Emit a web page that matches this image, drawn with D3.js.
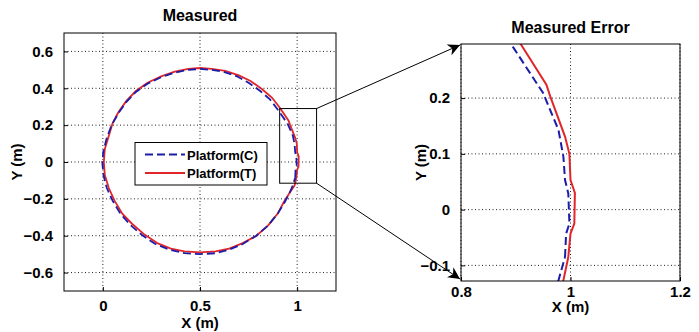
<!DOCTYPE html>
<html>
<head>
<meta charset="utf-8">
<script src="https://d3js.org/d3.v7.min.js"></script>
<style>
    body { margin: 0; background: #fff; }
    text { font-family: "Liberation Sans", Arial, sans-serif; font-weight: bold; fill: #000; }
</style>
</head>
<body>
<svg id="chart" width="699" height="332"></svg>
<script>
// measured trajectories, [x, y] in metres
let platformC = [
    [0.990, -0.085], [0.992, -0.043], [0.998, -0.025], [0.996, 0.029], [0.990, 0.053],
    [0.987, 0.095], [0.978, 0.143], [0.950, 0.209], [0.896, 0.290], [0.860, 0.340],
    [0.810, 0.385], [0.750, 0.430], [0.690, 0.465], [0.620, 0.490], [0.560, 0.500],
    [0.500, 0.505], [0.440, 0.500], [0.370, 0.485], [0.300, 0.460], [0.230, 0.425],
    [0.170, 0.380], [0.120, 0.325], [0.080, 0.265], [0.045, 0.200], [0.020, 0.130],
    [0.003, 0.060], [-0.003, 0.000], [0.003, -0.070], [0.020, -0.140], [0.050, -0.210],
    [0.090, -0.280], [0.140, -0.340], [0.200, -0.395], [0.270, -0.445], [0.340, -0.475],
    [0.420, -0.495], [0.500, -0.500], [0.580, -0.495], [0.650, -0.475], [0.720, -0.445],
    [0.790, -0.400], [0.850, -0.345], [0.900, -0.280], [0.935, -0.220], [0.960, -0.170],
    [0.978, -0.127], [0.990, -0.085]
];
let platformT = [
    [0.996, -0.085], [1.000, -0.043], [1.007, -0.025], [1.008, 0.030], [1.000, 0.053],
    [0.998, 0.100], [0.990, 0.131], [0.963, 0.203], [0.956, 0.224], [0.909, 0.297],
    [0.870, 0.350], [0.820, 0.395], [0.760, 0.440], [0.700, 0.470], [0.630, 0.495],
    [0.560, 0.505], [0.500, 0.510], [0.440, 0.505], [0.370, 0.490], [0.300, 0.465],
    [0.230, 0.430], [0.170, 0.385], [0.120, 0.330], [0.080, 0.270], [0.050, 0.210],
    [0.030, 0.140], [0.010, 0.070], [0.005, 0.000], [0.010, -0.070], [0.030, -0.140],
    [0.060, -0.210], [0.100, -0.280], [0.150, -0.335], [0.210, -0.390], [0.280, -0.440],
    [0.350, -0.470], [0.420, -0.485], [0.500, -0.490], [0.580, -0.485], [0.650, -0.470],
    [0.720, -0.440], [0.790, -0.400], [0.850, -0.345], [0.900, -0.280], [0.930, -0.220],
    [0.960, -0.170], [0.987, -0.127], [0.996, -0.085]
];
let seriesNames = ['Platform(C)', 'Platform(T)'];

let mainXTicks = [0, 0.5, 1];
let mainYTicks = [-0.6, -0.4, -0.2, 0, 0.2, 0.4, 0.6];
let zoomXTicks = [0.8, 1, 1.2];
let zoomYTicks = [-0.1, 0, 0.1, 0.2];
let zoomBox = {x0: 0.91, x1: 1.1, y0: -0.115, y1: 0.29};

let svg = d3.select('#chart');

function drawPanel(opts) {
    let x = d3.scaleLinear().domain(opts.xDomain).range([opts.left, opts.right]);
    let y = d3.scaleLinear().domain(opts.yDomain).range([opts.bottom, opts.top]);
    let g = svg.append('g');

    // dotted grid
    g.selectAll('.gx').data(opts.xTicks).enter().append('line')
        .attr('x1', d => x(d)).attr('x2', d => x(d))
        .attr('y1', opts.top).attr('y2', opts.bottom)
        .attr('stroke', '#222').attr('stroke-dasharray', '1,2.5');
    g.selectAll('.gy').data(opts.yTicks).enter().append('line')
        .attr('y1', d => y(d)).attr('y2', d => y(d))
        .attr('x1', opts.left).attr('x2', opts.right)
        .attr('stroke', '#222').attr('stroke-dasharray', '1,2.5');

    let clipId = 'clip' + opts.id;
    g.append('clipPath').attr('id', clipId).append('rect')
        .attr('x', opts.left).attr('y', opts.top)
        .attr('width', opts.right - opts.left).attr('height', opts.bottom - opts.top);

    let line = d3.line().x(d => x(d[0])).y(d => y(d[1]));
    g.append('path').datum(platformT)
        .attr('clip-path', 'url(#' + clipId + ')')
        .attr('d', line).attr('fill', 'none')
        .attr('stroke', '#e0262a').attr('stroke-width', opts.lineWidth);
    g.append('path').datum(platformC)
        .attr('clip-path', 'url(#' + clipId + ')')
        .attr('d', line).attr('fill', 'none')
        .attr('stroke', '#1c1ca8').attr('stroke-width', opts.lineWidth)
        .attr('stroke-dasharray', '8,4');

    let xAxis = d3.axisBottom(x).tickValues(opts.xTicks).tickSize(-4)
        .tickPadding(opts.xPad).tickFormat(d3.format('~g'));
    let ax = g.append('g').attr('transform', 'translate(0,' + opts.bottom + ')').call(xAxis);
    let yAxis = d3.axisLeft(y).tickValues(opts.yTicks).tickSize(-4)
        .tickPadding(11).tickFormat(d3.format('~g'));
    let ay = g.append('g').attr('transform', 'translate(' + opts.left + ',0)').call(yAxis);
    [ax, ay].forEach(a => {
        a.select('.domain').remove();
        a.selectAll('line').attr('stroke', '#000');
        a.selectAll('text').style('font-size', '15px').style('font-family', '"Liberation Sans", Arial, sans-serif');
    });

    g.append('rect')
        .attr('x', opts.left).attr('y', opts.top)
        .attr('width', opts.right - opts.left).attr('height', opts.bottom - opts.top)
        .attr('fill', 'none').attr('stroke', '#000').attr('stroke-width', 1);

    g.append('text').attr('x', (opts.left + opts.right) / 2).attr('y', opts.titleY)
        .attr('text-anchor', 'middle').style('font-size', '16px').text(opts.title);
    g.append('text').attr('x', (opts.left + opts.right) / 2).attr('y', opts.xLabelY)
        .attr('text-anchor', 'middle').style('font-size', '15px').text('X (m)');
    g.append('text')
        .attr('transform', 'translate(' + opts.yLabelX + ',' + (opts.top + opts.bottom) / 2 + ') rotate(-90)')
        .attr('text-anchor', 'middle').style('font-size', '15px').text('Y (m)');

    return {x: x, y: y, g: g};
}

let main = drawPanel({
    id: 'main', left: 64, right: 336, top: 33, bottom: 291,
    xDomain: [-0.2, 1.2], yDomain: [-0.7, 0.7],
    xTicks: mainXTicks, yTicks: mainYTicks, lineWidth: 1.8, xPad: 9,
    title: 'Measured', titleY: 21, xLabelY: 328, yLabelX: 22
});

let zoom = drawPanel({
    id: 'zoom', left: 461, right: 680, top: 44, bottom: 281,
    xDomain: [0.8, 1.2], yDomain: [-0.128, 0.297],
    xTicks: zoomXTicks, yTicks: zoomYTicks, lineWidth: 2, xPad: 5,
    title: 'Measured Error', titleY: 33, xLabelY: 312, yLabelX: 426
});

// legend
let legend = main.g.append('g').attr('transform', 'translate(135,142.5)');
legend.append('rect').attr('width', 132).attr('height', 42.5)
    .attr('fill', '#fff').attr('stroke', '#000');
let legendStyles = [
    {color: '#1c1ca8', dash: '8,4'},
    {color: '#e0262a', dash: null}
];
seriesNames.forEach(function (name, i) {
    let yy = 12 + i * 18.5;
    legend.append('line').attr('x1', 10).attr('x2', 50).attr('y1', yy).attr('y2', yy)
        .attr('stroke', legendStyles[i].color).attr('stroke-width', 2)
        .attr('stroke-dasharray', legendStyles[i].dash);
    legend.append('text').attr('x', 52).attr('y', yy + 5)
        .style('font-size', '13px').text(name);
});

// zoom rectangle and connector arrows
let bx0 = main.x(zoomBox.x0), bx1 = main.x(zoomBox.x1);
let by0 = main.y(zoomBox.y0), by1 = main.y(zoomBox.y1);
svg.append('rect').attr('x', bx0).attr('y', by1)
    .attr('width', bx1 - bx0).attr('height', by0 - by1)
    .attr('fill', 'none').attr('stroke', '#000');

svg.append('defs').append('marker')
    .attr('id', 'arrow').attr('viewBox', '0 0 10 10')
    .attr('refX', 10).attr('refY', 5)
    .attr('markerWidth', 12).attr('markerHeight', 12)
    .attr('markerUnits', 'userSpaceOnUse')
    .attr('orient', 'auto')
    .append('path').attr('d', 'M0,0 L10,5 L0,10 L3,5 Z').attr('fill', '#000');

let zx0 = zoom.x.range()[0];
let zyTop = zoom.y.range()[1], zyBottom = zoom.y.range()[0];
svg.append('line').attr('x1', bx1).attr('y1', by1).attr('x2', zx0 - 1).attr('y2', zyTop + 1)
    .attr('stroke', '#000').attr('marker-end', 'url(#arrow)');
svg.append('line').attr('x1', bx1).attr('y1', by0).attr('x2', zx0 - 1).attr('y2', zyBottom - 2)
    .attr('stroke', '#000').attr('marker-end', 'url(#arrow)');
</script>
</body>
</html>
